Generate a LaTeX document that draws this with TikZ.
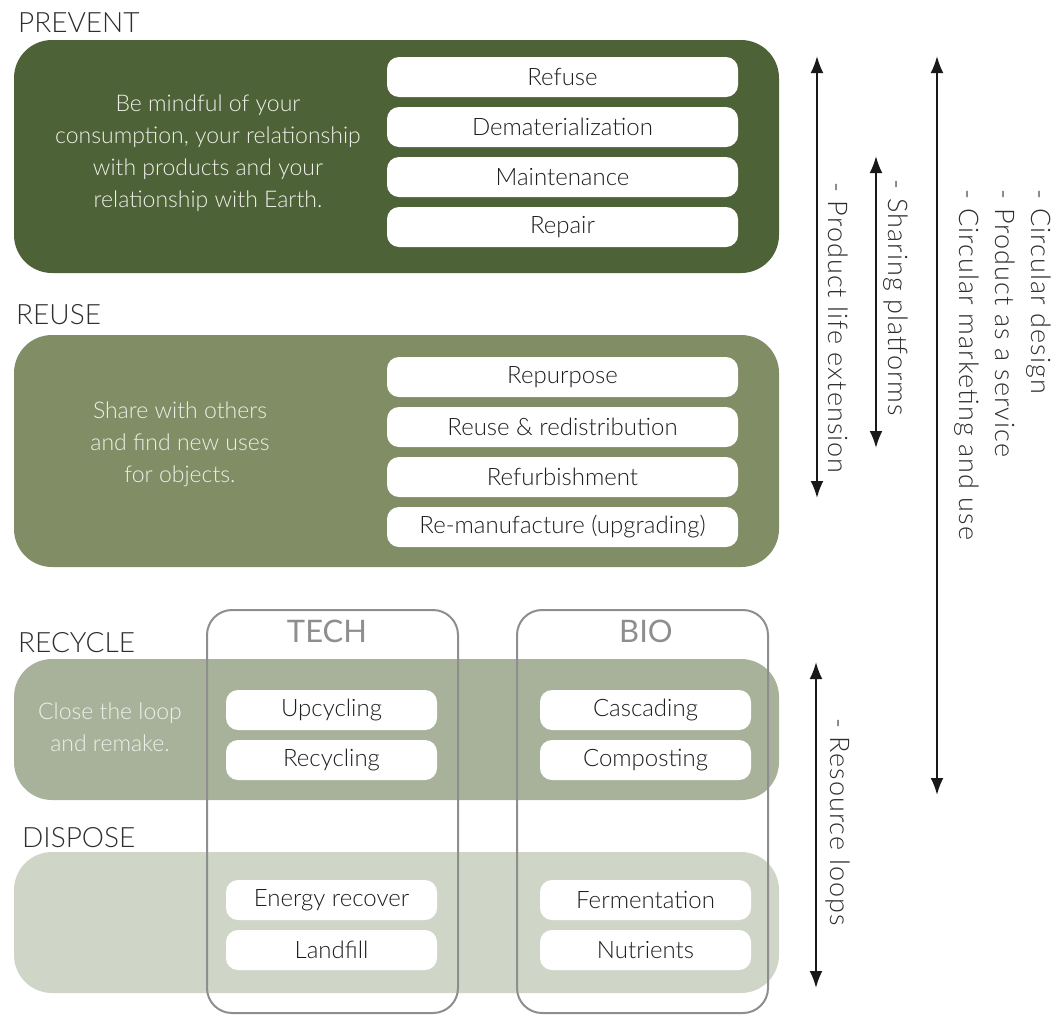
\documentclass[tikz,border=0pt]{standalone}
\usepackage{fontspec}
\setmainfont{Lato}[UprightFont=* Light, BoldFont=*]
\newfontfamily\labelfont{Lato}
\usetikzlibrary{arrows.meta}

\definecolor{preventc}{HTML}{4E6238}
\definecolor{reusec}{HTML}{808D65}
\definecolor{recyclec}{HTML}{A8B29A}
\definecolor{disposec}{HTML}{D0D6C7}
\definecolor{headc}{HTML}{2E2E2E}
\definecolor{itemtxt}{HTML}{1E1E1E}
\definecolor{frame}{HTML}{8E8E8E}
\definecolor{paletxt}{HTML}{EEF0EA}

\tikzset{
  panel/.style={fill=#1, rounded corners=38pt},
  head/.style={anchor=base west, text=headc, inner sep=0pt, font=\fontsize{28}{30}\selectfont},
  blurb/.style={align=center, text=paletxt, inner sep=0pt, font=\fontsize{23}{32}\selectfont},
  item/.style={fill=white, rounded corners=12pt, minimum width=351pt, minimum height=40pt,
    inner sep=0pt, text=itemtxt, font=\fontsize{24}{26}\selectfont},
  smallitem/.style={item, minimum width=211pt},
  stream/.style={draw=frame, line width=2pt, rounded corners=25pt},
  streamlabel/.style={text=frame, inner sep=0pt, font=\labelfont\fontsize{31}{34}\selectfont},
  span/.style={line width=2.2pt, draw=black!90, {Latex[length=17pt,width=13pt]}-{Latex[length=17pt,width=13pt]}},
  spanlabel/.style={rotate=-90, align=left, text=headc, inner sep=0pt,
    font=\fontsize{27}{36}\selectfont\addfontfeatures{LetterSpace=4}}
}

\begin{document}
\begin{tikzpicture}[x=1pt, y=-1pt]
\useasboundingbox (0,0) rectangle (1063,1015);

% section headings
\node[head] (hprevent) at (18,32) {PREVENT};
\node[head] (hreuse) at (16,324) {REUSE};
\node[head] (hrecycle) at (18,652) {RECYCLE};
\node[head] (hdispose) at (22,847) {DISPOSE};

% coloured bands
\fill[panel=preventc] (14,40) rectangle (779,273);
\fill[panel=reusec] (14,335) rectangle (779,567);
\fill[panel=recyclec] (14,659) rectangle (779,800);
\fill[panel=disposec] (14,852) rectangle (779,993);

% band descriptions
\node[blurb] (tprevent) at (208,153) {Be mindful of your\\consumption, your relationship\\with products and your\\relationship with Earth.};
\node[blurb] (treuse) at (180,444) {Share with others\\and find new uses\\for objects.};
\node[blurb] (trecycle) at (110,727) {Close the loop\\and remake.};

% prevent strategies
\node[item] (refuse) at (562.5,77) {Refuse};
\node[item] (demat) at (562.5,127) {Dematerialization};
\node[item] (maint) at (562.5,177) {Maintenance};
\node[item] (repair) at (562.5,227) {Repair};

% reuse strategies
\node[item] (repurpose) at (562.5,377) {Repurpose};
\node[item] (redist) at (562.5,427) {Reuse \& redistribution};
\node[item] (refurb) at (562.5,477) {Refurbishment};
\node[item] (reman) at (562.5,527) {Re-manufacture (upgrading)};

% technical and biological cycles
\draw[stream] (207,610) rectangle (458,1013);
\draw[stream] (517,610) rectangle (768,1013);
\node[streamlabel] (tech) at (327,631) {TECH};
\node[streamlabel] (bio) at (646,631) {BIO};

\node[smallitem] (upcyc) at (331.5,710) {Upcycling};
\node[smallitem] (recyc) at (331.5,760) {Recycling};
\node[smallitem] (energy) at (331.5,900) {Energy recover};
\node[smallitem] (landfill) at (331.5,950) {Landfill};

\node[smallitem] (cascade) at (645.5,710) {Cascading};
\node[smallitem] (compost) at (645.5,760) {Composting};
\node[smallitem] (ferment) at (645.5,900) {Fermentation};
\node[smallitem] (nutri) at (645.5,950) {Nutrients};

% business-model spans
\coordinate (pleTop) at (817,56);
\coordinate (pleBot) at (817,498);
\coordinate (shTop) at (876,156);
\coordinate (shBot) at (876,448);
\coordinate (cdTop) at (937,56);
\coordinate (cdBot) at (937,795);
\coordinate (rlTop) at (816,662);
\coordinate (rlBot) at (816,988);

\draw[span] (pleTop) -- (pleBot);
\draw[span] (shTop) -- (shBot);
\draw[span] (cdTop) -- (cdBot);
\draw[span] (rlTop) -- (rlBot);

\node[spanlabel] (ple) at (838,328) {- Product life extension};
\node[spanlabel] (share) at (896,298) {- Sharing platforms};
\node[spanlabel] (circ) at (1003,365) {- Circular design\\- Product as a service\\- Circular marketing and use};
\node[spanlabel] (loops) at (838,822) {- Resource loops};
\end{tikzpicture}
\end{document}
